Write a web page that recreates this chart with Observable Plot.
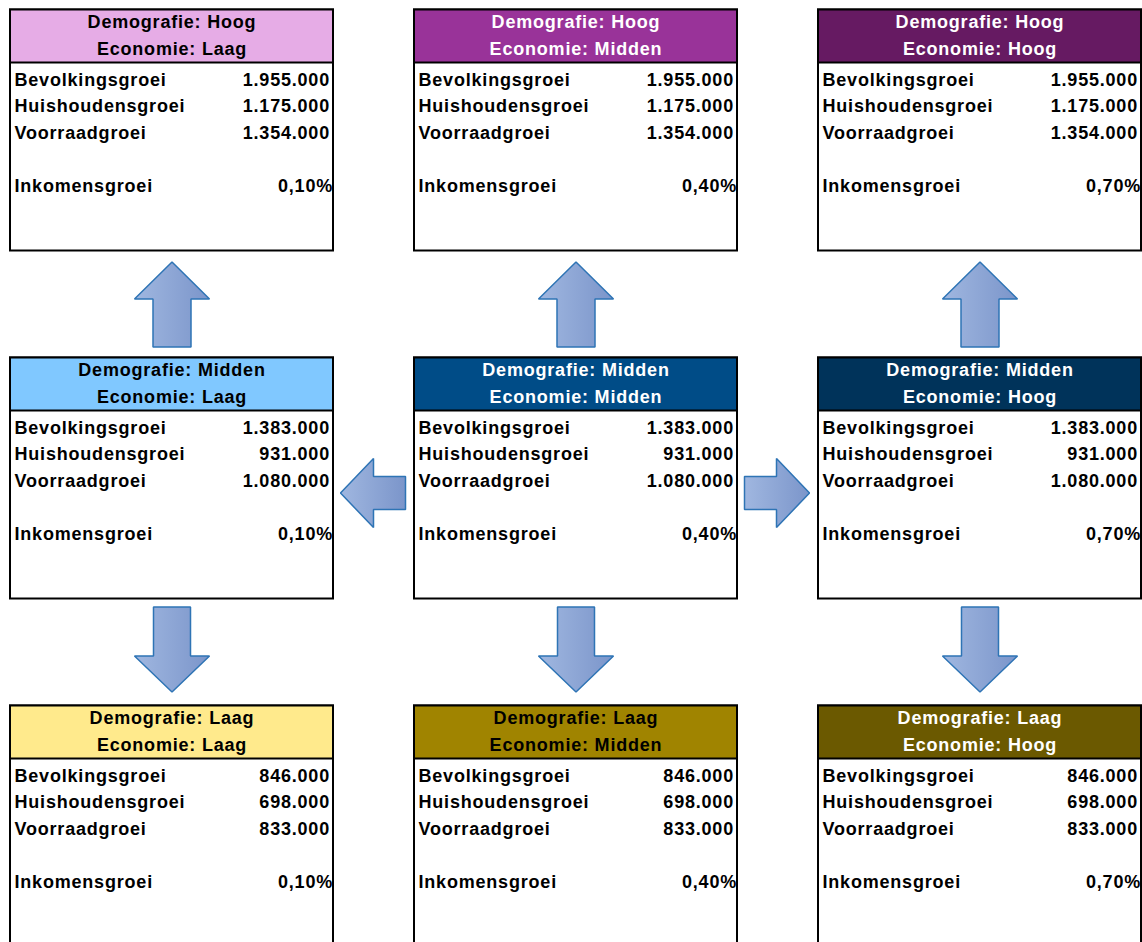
<!DOCTYPE html>
<html>
<head>
<meta charset="utf-8">
<script src="https://cdn.jsdelivr.net/npm/d3@7"></script>
<script src="https://cdn.jsdelivr.net/npm/@observablehq/plot@0.6"></script>
<style>
  html, body { margin: 0; padding: 0; background: #ffffff; }
  #chart { width: 1142px; height: 942px; overflow: hidden; }
</style>
</head>
<body>
<div id="chart"></div>
<script>
// ---- Data ----
const demografie = ["Hoog", "Midden", "Laag"];          // rows, top to bottom
const economie = ["Laag", "Midden", "Hoog"];            // columns, left to right
const bevolkingsgroei = [1955000, 1383000, 846000];     // per demografie row
const huishoudensgroei = [1175000, 931000, 698000];
const voorraadgroei = [1354000, 1080000, 833000];
const inkomensgroei = [0.001, 0.004, 0.007];            // per economie column
const metricLabels = ["Bevolkingsgroei", "Huishoudensgroei", "Voorraadgroei", "Inkomensgroei"];

// ---- Palette ----
const headerFill = [
  ["#E6ACE6", "#993399", "#661A62"],
  ["#80C8FF", "#004C87", "#00335A"],
  ["#FFEA8C", "#A08400", "#6B5900"]
];
const headerInk = [
  ["#000000", "#ffffff", "#ffffff"],
  ["#000000", "#ffffff", "#ffffff"],
  ["#000000", "#000000", "#ffffff"]
];

// ---- Layout ----
const colLeft = c => 10 + c * 404;
const rowTop = r => 9.5 + r * 348;
const boxW = 323, boxH = 241, headerH = 53;
const metricOffsets = [70, 96.5, 123, 176.5];

const nl = d3.formatLocale({decimal: ",", thousands: ".", grouping: [3], currency: ["€", ""]});
const fmtInt = nl.format(",d");
const fmtPct = nl.format(".2%");

const cells = [];
demografie.forEach((dem, r) => economie.forEach((eco, c) => {
  cells.push({r, c, dem, eco,
    values: [fmtInt(bevolkingsgroei[r]), fmtInt(huishoudensgroei[r]), fmtInt(voorraadgroei[r]), fmtPct(inkomensgroei[c])]});
}));

const lines = [];
cells.forEach(d => metricLabels.forEach((label, i) => {
  lines.push({...d, i, label, value: d.values[i]});
}));

// ---- Arrows (polygons) ----
const arrowPts = [];
function addPoly(id, pts) { pts.forEach(([x, y]) => arrowPts.push({id, x, y})); }
economie.forEach((_, c) => {
  const cx = colLeft(c) + boxW / 2;
  // up arrow: middle row -> top row
  const t = rowTop(0) + boxH + 11, b = t + 37, e = t + 85;
  addPoly("up" + c, [[cx, t], [cx + 37.5, b], [cx + 19, b], [cx + 19, e], [cx - 19, e], [cx - 19, b], [cx - 37.5, b]]);
  // down arrow: middle row -> bottom row
  const s = rowTop(1) + boxH + 8, hb = s + 49, tip = s + 85;
  addPoly("down" + c, [[cx - 18.5, s], [cx + 18.5, s], [cx + 18.5, hb], [cx + 37.5, hb], [cx, tip], [cx - 37.5, hb], [cx - 18.5, hb]]);
});
{
  const cy = rowTop(1) + 135;
  // left arrow: centre -> left
  const tip = colLeft(0) + boxW + 7, hb = tip + 33, end = colLeft(1) - 9;
  addPoly("left", [[tip, cy], [hb, cy - 34.5], [hb, cy - 16.5], [end, cy - 16.5], [end, cy + 16.5], [hb, cy + 16.5], [hb, cy + 34.5]]);
  // right arrow: centre -> right
  const tip2 = colLeft(2) - 9, hb2 = tip2 - 33, st = colLeft(1) + boxW + 7;
  addPoly("right", [[tip2, cy], [hb2, cy + 34.5], [hb2, cy + 16.5], [st, cy + 16.5], [st, cy - 16.5], [hb2, cy - 16.5], [hb2, cy - 34.5]]);
}

const defsMark = () => {
  const g = d3.create("svg:g");
  const grad = g.append("defs").append("linearGradient")
    .attr("id", "arrowGrad").attr("x1", "0").attr("x2", "1").attr("y1", "0").attr("y2", "0");
  grad.append("stop").attr("offset", "0%").attr("stop-color", "#A0B7E0");
  grad.append("stop").attr("offset", "100%").attr("stop-color", "#7B95CA");
  return g.node();
};

const font = {fontFamily: "'Liberation Sans', Arial, sans-serif", fontSize: 18, fontWeight: "bold"};

const plot = Plot.plot({
  width: 1142,
  height: 942,
  margin: 0,
  x: {domain: [0, 1142], range: [0, 1142], axis: null},
  y: {domain: [0, 942], range: [0, 942], axis: null},
  color: {type: "identity"},
  style: {background: "white", fontFamily: "'Liberation Sans', Arial, sans-serif", letterSpacing: "0.8px"},
  marks: [
    defsMark,
    // box body
    Plot.rect(cells, {x1: d => colLeft(d.c), x2: d => colLeft(d.c) + boxW, y1: d => rowTop(d.r), y2: d => rowTop(d.r) + boxH,
      fill: "white", stroke: "black", strokeWidth: 2}),
    // header
    Plot.rect(cells, {x1: d => colLeft(d.c), x2: d => colLeft(d.c) + boxW, y1: d => rowTop(d.r), y2: d => rowTop(d.r) + headerH,
      fill: d => headerFill[d.r][d.c], stroke: "black", strokeWidth: 2}),
    Plot.text(cells, {x: d => colLeft(d.c) + boxW / 2, y: d => rowTop(d.r) + 12.5, text: d => "Demografie: " + d.dem,
      fill: d => headerInk[d.r][d.c], ...font}),
    Plot.text(cells, {x: d => colLeft(d.c) + boxW / 2, y: d => rowTop(d.r) + 39, text: d => "Economie: " + d.eco,
      fill: d => headerInk[d.r][d.c], ...font}),
    // metric labels and values
    Plot.text(lines, {x: d => colLeft(d.c) + 4, y: d => rowTop(d.r) + metricOffsets[d.i], text: "label",
      textAnchor: "start", fill: "black", ...font}),
    Plot.text(lines, {x: d => colLeft(d.c) + boxW - (d.i === 3 ? 0.5 : 3.5), y: d => rowTop(d.r) + metricOffsets[d.i], text: "value",
      textAnchor: "end", fill: "black", ...font}),
    // arrows
    Plot.line(arrowPts, {x: "x", y: "y", z: "id", curve: "linear-closed", fill: "url(#arrowGrad)",
      stroke: "#2E74B5", strokeWidth: 1.5, strokeLinejoin: "miter"})
  ]
});

document.getElementById("chart").appendChild(plot);
</script>
</body>
</html>
